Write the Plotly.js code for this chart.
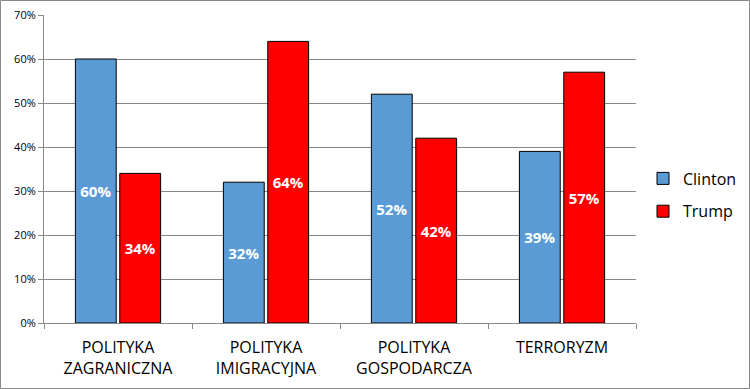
<!DOCTYPE html>
<html><head><meta charset="utf-8">
<script src="https://cdn.plot.ly/plotly-3.0.1.min.js"></script>
<style>html,body{margin:0;padding:0;background:#fff}</style>
</head><body><div id="chart" style="width:750px;height:389px"></div>
<script>
const categories = ["POLITYKA<br>ZAGRANICZNA", "POLITYKA<br>IMIGRACYJNA", "POLITYKA<br>GOSPODARCZA", "TERRORYZM"];
const clinton = [60, 32, 52, 39];
const trump = [34, 64, 42, 57];
const yTicks = [0, 10, 20, 30, 40, 50, 60, 70];

const W = 750, H = 389, L = 44, R = 114, T = 15, B = 66;
const pw = W - L - R, ph = H - T - B;
const font = "Open Sans, Liberation Sans, sans-serif";

function barTrace(name, vals, color) {
  return {
    type: 'bar', name: name, legendgroup: name, x: categories, y: vals,
    marker: {color: color, line: {color: '#000', width: 1}},
    text: vals.map(v => v + '%'), textposition: 'inside', insidetextanchor: 'middle',
    textfont: {color: '#fff', size: 15, family: font, weight: 'bold'},
    hoverinfo: 'none'
  };
}

const data = [barTrace('Clinton', clinton, '#5B9BD5'), barTrace('Trump', trump, '#FF0000')];

const layout = {
  width: W, height: H,
  margin: {l: L, r: R, t: T, b: B, pad: 0, autoexpand: false},
  paper_bgcolor: '#fff', plot_bgcolor: '#fff',
  barmode: 'group', bargap: 0.4, bargroupgap: 0.08,
  showlegend: true,
  legend: {x: (643 - L) / pw, y: (323 - 195) / ph, xanchor: 'left', yanchor: 'middle',
    font: {family: font, size: 16, color: '#000'}, tracegroupgap: 9, itemwidth: 30},
  xaxis: {
    showgrid: false, showline: true, linecolor: '#888', linewidth: 1,
    ticks: 'outside', tickson: 'boundaries', ticklen: 5, tickcolor: '#888',
    ticklabelstandoff: 10,
    tickfont: {family: font, size: 16, color: '#000'}, fixedrange: true
  },
  yaxis: {
    range: [0, 70], tickvals: yTicks, ticktext: yTicks.map(v => v + '%'),
    showgrid: true, gridcolor: '#888', gridwidth: 1,
    showline: true, linecolor: '#888', linewidth: 1,
    ticks: 'outside', ticklen: 5, tickcolor: '#888',
    tickfont: {family: font, size: 11, color: '#000'}, zeroline: false, fixedrange: true
  },
  shapes: [{
    type: 'rect', xref: 'paper', yref: 'paper',
    x0: (0.5 - L) / pw, x1: (W - 0.5 - L) / pw,
    y0: -(H - 0.5 - T - ph) / ph, y1: 1 + (T - 0.5) / ph,
    line: {color: '#888', width: 1}, fillcolor: 'rgba(0,0,0,0)', layer: 'below'
  }]
};

Plotly.newPlot('chart', data, layout, {displayModeBar: false, staticPlot: true});
</script></body></html>
